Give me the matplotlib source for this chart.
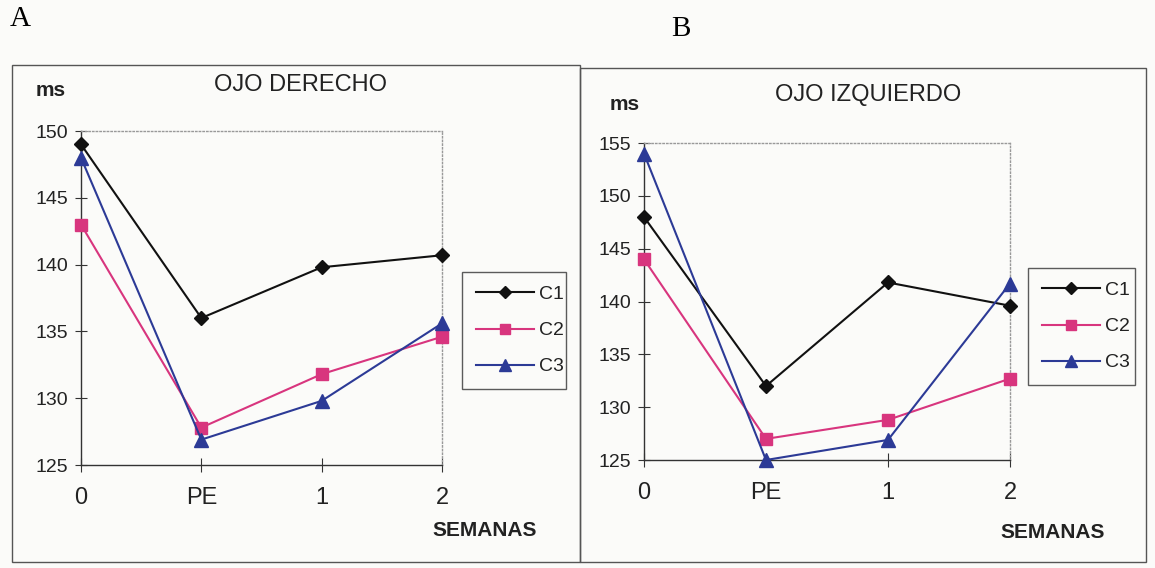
import matplotlib
matplotlib.use("Agg")
import matplotlib.pyplot as plt
from matplotlib.patches import Rectangle

plt.rcParams['font.family'] = ['Liberation Sans', 'DejaVu Sans']

categories = ["0", "PE", "1", "2"]
series_names = ["C1", "C2", "C3"]

od_c1 = [149.0, 136.0, 139.8, 140.7]
od_c2 = [143.0, 127.8, 131.8, 134.6]
od_c3 = [148.0, 126.9, 129.8, 135.6]

oi_c1 = [148.0, 132.0, 141.8, 139.6]
oi_c2 = [144.0, 127.0, 128.8, 132.7]
oi_c3 = [154.0, 125.0, 126.9, 141.7]

od_ticks = [125, 130, 135, 140, 145, 150]
oi_ticks = [125, 130, 135, 140, 145, 150, 155]

colors = ["#111111", "#d8357e", "#2c3a96"]
markers = ["D", "s", "^"]
msizes = [7, 8.5, 9.5]

W, H = 1155, 568
fig = plt.figure(figsize=(W / 100, H / 100), dpi=100)
fig.patch.set_facecolor("#fbfbf9")


def fx(px):
    return px / W


def fy(py):
    return 1 - py / H


# panel frames
for (x0, y0, x1, y1) in [(12, 65, 580, 562), (580, 68, 1146, 562)]:
    fig.add_artist(Rectangle((fx(x0), fy(y1)), fx(x1) - fx(x0), fy(y0) - fy(y1),
                             transform=fig.transFigure, fill=False,
                             edgecolor="#555555", linewidth=1.0))

fig.text(fx(20), fy(19), "A", fontsize=21, family="Liberation Serif", va="center", ha="center")
fig.text(fx(681), fy(29), "B", fontsize=21, family="Liberation Serif", va="center", ha="center")


def panel(rect, data, ticks, title, title_xy, ms_xy, sem_xy, legend_rect):
    ax = fig.add_axes(rect)
    ax.set_facecolor("#fbfbf9")
    x = list(range(len(categories)))
    handles = []
    for vals, c, m, s, name in zip(data, colors, markers, msizes, series_names):
        h, = ax.plot(x, vals, color=c, marker=m, markersize=s, linewidth=1.5,
                     markeredgecolor=c, label=name, clip_on=False, zorder=3)
        handles.append(h)
    ax.set_xlim(0, 3)
    ax.set_ylim(ticks[0], ticks[-1])
    ax.set_yticks(ticks)
    ax.set_xticks(x)
    ax.set_xticklabels(categories)
    for sp in ["top", "right"]:
        ax.spines[sp].set_color("#999999")
        ax.spines[sp].set_linestyle(":")
        ax.spines[sp].set_linewidth(1.0)
    for sp in ["left", "bottom"]:
        ax.spines[sp].set_color("#333333")
        ax.spines[sp].set_linewidth(1.0)
    ax.tick_params(axis="y", direction="inout", length=8, labelsize=14, pad=5,
                   color="#333333", labelcolor="#222222")
    ax.tick_params(axis="x", direction="inout", length=10, labelsize=17, pad=11,
                   color="#333333", labelcolor="#222222")
    fig.text(fx(title_xy[0]), fy(title_xy[1]), title, fontsize=17, ha="center", va="center",
             color="#222222")
    fig.text(fx(ms_xy[0]), fy(ms_xy[1]), "ms", fontsize=15, fontweight="bold",
             ha="center", va="center", color="#222222")
    fig.text(fx(sem_xy[0]), fy(sem_xy[1]), "SEMANAS", fontsize=15, fontweight="bold",
             ha="center", va="center", color="#222222")
    lx0, ly0, lx1, ly1 = legend_rect
    leg = fig.legend(handles=handles, loc="upper left",
                     bbox_to_anchor=(fx(lx0), fy(ly1), fx(lx1) - fx(lx0), fy(ly0) - fy(ly1)),
                     bbox_transform=fig.transFigure, mode="expand",
                     frameon=True, fancybox=False, edgecolor="#333333",
                     fontsize=14, handlelength=3.0, handletextpad=0.25,
                     labelspacing=0.95, borderpad=0.7, borderaxespad=0,
                     markerscale=0.9)
    leg.get_frame().set_linewidth(1.0)
    leg.get_frame().set_facecolor("#fbfbf9")
    for t in leg.get_texts():
        t.set_color("#222222")
    return ax


panel([fx(81), fy(465), fx(442) - fx(81), fy(131) - fy(465)],
      [od_c1, od_c2, od_c3], od_ticks, "OJO DERECHO", (300, 85), (51, 90), (485, 530),
      (462, 272, 566, 388))

panel([fx(644), fy(460), fx(1010) - fx(644), fy(143) - fy(460)],
      [oi_c1, oi_c2, oi_c3], oi_ticks, "OJO IZQUIERDO", (868, 95), (625, 104), (1053, 532),
      (1028, 268, 1135, 380))

fig.savefig("out.png", dpi=100, facecolor=fig.get_facecolor())
